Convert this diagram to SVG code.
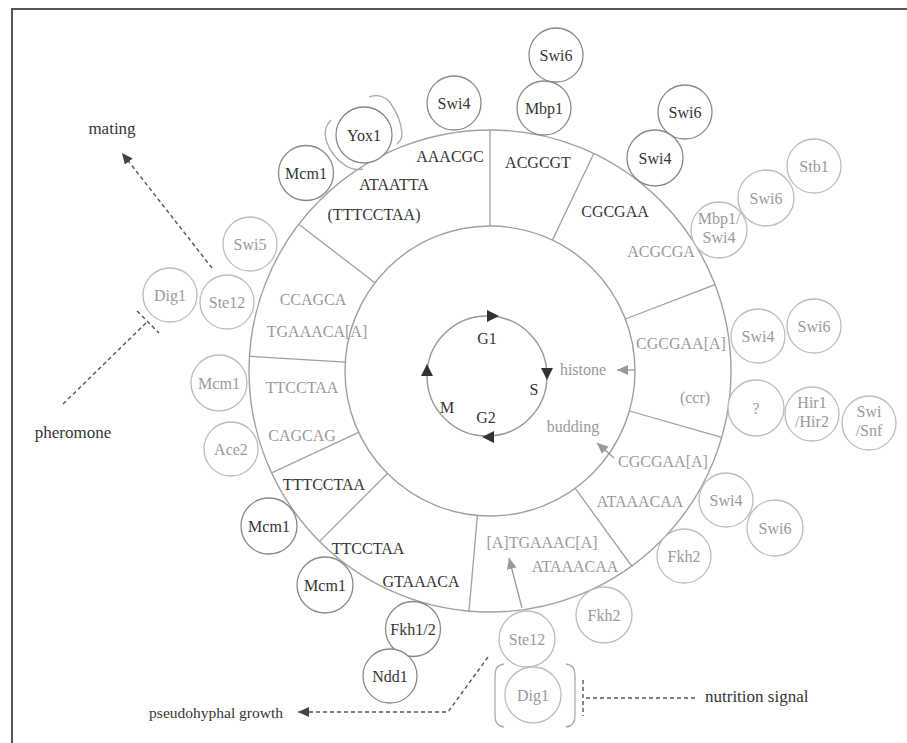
<svg xmlns="http://www.w3.org/2000/svg" width="907" height="743" viewBox="0 0 907 743" font-family="'Liberation Serif', 'DejaVu Serif', serif">
<style>
text{font-family:'Liberation Serif','DejaVu Serif',serif;font-size:16px;text-anchor:middle}
.dk{fill:#353535}
.gy{fill:#9a9a9a}
.lb{font-size:17px}
.cd{fill:#fff;stroke:#8a8a8a;stroke-width:1.3}
.cg{fill:#fff;stroke:#bdbdbd;stroke-width:1.3}
.ring{fill:none;stroke:#a0a0a0;stroke-width:1.4}
.div{stroke:#a0a0a0;stroke-width:1.3}
.dash{fill:none;stroke:#555;stroke-width:1.4;stroke-dasharray:4 3}
.br{fill:none;stroke:#aaa;stroke-width:1.3}
.gl{stroke:#999;stroke-width:1.3}
</style>
<defs>
<marker id="ad" markerUnits="userSpaceOnUse" markerWidth="12" markerHeight="10" refX="11" refY="5" orient="auto"><path d="M0,0 L11,5 L0,10 z" fill="#444"/></marker>
<marker id="ag" markerUnits="userSpaceOnUse" markerWidth="12" markerHeight="10" refX="11" refY="5" orient="auto"><path d="M0,0 L11,5 L0,10 z" fill="#999"/></marker>
</defs>
<rect width="907" height="743" fill="#fff"/>
<path d="M11 9 H907 M12 8 V743" stroke="#555" stroke-width="2" fill="none"/>

<g id="rings">
<circle class="ring" cx="490" cy="371" r="241"/>
<circle class="ring" cx="490" cy="371" r="145"/>
<line class="div" x1="490" y1="226" x2="490" y2="130"/>
<line class="div" x1="552.4" y1="240.1" x2="593.8" y2="153.5"/>
<line class="div" x1="625.4" y1="319" x2="715" y2="284.6"/>
<line class="div" x1="629.4" y1="411" x2="721.7" y2="437.4"/>
<line class="div" x1="575.2" y1="488.3" x2="631.7" y2="566"/>
<line class="div" x1="477.4" y1="515.4" x2="469" y2="611.1"/>
<line class="div" x1="387.5" y1="473.5" x2="319.6" y2="541.4"/>
<line class="div" x1="358.6" y1="432.3" x2="271.6" y2="472.9"/>
<line class="div" x1="345.3" y1="362.2" x2="249.5" y2="356.3"/>
<line class="div" x1="374.9" y1="282.7" x2="298.8" y2="224.3"/>
</g>

<g id="sites">
<text class="dk" x="450" y="162">AAACGC</text>
<text class="dk" x="394" y="190">ATAATTA</text>
<text class="dk" x="374" y="220">(TTTCCTAA)</text>
<text class="dk" x="538" y="168">ACGCGT</text>
<text class="dk" x="615" y="217">CGCGAA</text>
<text class="gy" x="661" y="257">ACGCGA</text>
<text class="gy" x="681" y="349">CGCGAA[A]</text>
<text class="gy" x="695" y="403">(ccr)</text>
<text class="gy" x="663" y="467">CGCGAA[A]</text>
<text class="gy" x="640" y="507">ATAAACAA</text>
<text class="gy" x="542" y="548">[A]TGAAAC[A]</text>
<text class="gy" x="575" y="572">ATAAACAA</text>
<text class="dk" x="421" y="587">GTAAACA</text>
<text class="dk" x="368" y="554">TTCCTAA</text>
<text class="dk" x="324" y="490">TTTCCTAA</text>
<text class="gy" x="302" y="441">CAGCAG</text>
<text class="gy" x="302" y="393">TTCCTAA</text>
<text class="gy" x="317" y="337">TGAAACA[A]</text>
<text class="gy" x="313" y="305">CCAGCA</text>
</g>

<g id="cellcycle">
<circle cx="487" cy="376" r="60" fill="none" stroke="#999" stroke-width="1.4"/>
<polygon points="487,310 499,316 487,322" fill="#333"/>
<polygon points="541,368 553,368 547,380" fill="#333"/>
<polygon points="494,431 494,443 482,437" fill="#333"/>
<polygon points="421,376 433,376 427,364" fill="#333"/>
<text class="dk" x="487" y="344">G1</text>
<text class="dk" x="534" y="395">S</text>
<text class="dk" x="486" y="423">G2</text>
<text class="dk" x="447" y="413">M</text>
<text class="gy" x="583" y="375">histone</text>
<text class="gy" x="573" y="432">budding</text>
</g>

<g id="n_mcm1_a"><circle class="cd" cx="306" cy="173" r="27.5"/><text class="dk" x="306" y="178.5">Mcm1</text></g>
<g id="n_yox1"><circle class="cd" cx="364" cy="135" r="28"/><text class="dk" x="364" y="140.5">Yox1</text>
<path class="br" d="M331 120 Q323 128 326 140 Q331 156 346 166 Q354 171 363 169"/>
<path class="br" d="M369 97 Q380 93 389 101 Q401 117 402 134 Q402 140 397 144"/></g>
<g id="n_swi4_a"><circle class="cd" cx="454" cy="103" r="27"/><text class="dk" x="454" y="108.5">Swi4</text></g>
<g id="n_swi6_a"><circle class="cd" cx="556" cy="55" r="27"/><text class="dk" x="556" y="60.5">Swi6</text></g>
<g id="n_mbp1"><circle class="cd" cx="544" cy="108" r="27"/><text class="dk" x="544" y="113.5">Mbp1</text></g>
<g id="n_swi6_b"><circle class="cd" cx="685" cy="112" r="27"/><text class="dk" x="685" y="117.5">Swi6</text></g>
<g id="n_swi4_b"><circle class="cd" cx="655" cy="158" r="28"/><text class="dk" x="655" y="163.5">Swi4</text></g>
<g id="n_mbp1swi4"><circle class="cg" cx="719" cy="230" r="28"/><text class="gy" x="719" y="224">Mbp1/</text><text class="gy" x="719" y="243">Swi4</text></g>
<g id="n_swi6_c"><circle class="cg" cx="766" cy="198" r="28"/><text class="gy" x="766" y="203.5">Swi6</text></g>
<g id="n_stb1"><circle class="cg" cx="814" cy="166" r="27"/><text class="gy" x="814" y="171.5">Stb1</text></g>
<g id="n_swi4_c"><circle class="cg" cx="758" cy="336" r="27"/><text class="gy" x="758" y="341.5">Swi4</text></g>
<g id="n_swi6_d"><circle class="cg" cx="814" cy="326" r="27"/><text class="gy" x="814" y="331.5">Swi6</text></g>
<g id="n_q"><circle class="cg" cx="756" cy="408" r="28"/><text class="gy" x="756" y="413.5">?</text></g>
<g id="n_hir"><circle class="cg" cx="812" cy="414" r="27"/><text class="gy" x="812" y="408">Hir1</text><text class="gy" x="812" y="427">/Hir2</text></g>
<g id="n_swisnf"><circle class="cg" cx="869" cy="423" r="27"/><text class="gy" x="869" y="417">Swi</text><text class="gy" x="869" y="436">/Snf</text></g>
<g id="n_swi4_e"><circle class="cg" cx="726" cy="500" r="27"/><text class="gy" x="726" y="505.5">Swi4</text></g>
<g id="n_swi6_e"><circle class="cg" cx="775" cy="528" r="28"/><text class="gy" x="775" y="533.5">Swi6</text></g>
<g id="n_fkh2_a"><circle class="cg" cx="684" cy="556" r="27"/><text class="gy" x="684" y="561.5">Fkh2</text></g>
<g id="n_fkh2_b"><circle class="cg" cx="604" cy="615" r="28"/><text class="gy" x="604" y="620.5">Fkh2</text></g>
<g id="n_ste12_b"><circle class="cg" cx="527" cy="639" r="28"/><text class="gy" x="527" y="644.5">Ste12</text></g>
<g id="n_dig1_b"><circle class="cg" cx="533" cy="695" r="28"/><text class="gy" x="533" y="700.5">Dig1</text>
<path class="br" d="M504 664 Q495 665 495 675 L495 716 Q495 726 504 727"/>
<path class="br" d="M566 664 Q575 665 575 675 L575 716 Q575 726 566 727"/></g>
<g id="n_fkh12"><circle class="cd" cx="413" cy="629" r="27.5"/><text class="dk" x="413" y="634.5">Fkh1/2</text></g>
<g id="n_ndd1"><circle class="cd" cx="390" cy="676" r="27"/><text class="dk" x="390" y="681.5">Ndd1</text></g>
<g id="n_mcm1_e"><circle class="cd" cx="325" cy="585" r="28"/><text class="dk" x="325" y="590.5">Mcm1</text></g>
<g id="n_mcm1_d"><circle class="cd" cx="269" cy="526" r="28"/><text class="dk" x="269" y="531.5">Mcm1</text></g>
<g id="n_ace2"><circle class="cg" cx="231" cy="449" r="27"/><text class="gy" x="231" y="454.5">Ace2</text></g>
<g id="n_mcm1_b"><circle class="cg" cx="219" cy="383" r="28"/><text class="gy" x="219" y="388.5">Mcm1</text></g>
<g id="n_ste12_a"><circle class="cg" cx="227" cy="302" r="27"/><text class="gy" x="227" y="307.5">Ste12</text></g>
<g id="n_dig1_a"><circle class="cg" cx="170" cy="295" r="27"/><text class="gy" x="170" y="300.5">Dig1</text></g>
<g id="n_swi5"><circle class="cg" cx="250" cy="244" r="27"/><text class="gy" x="250" y="249.5">Swi5</text></g>

<g id="labels">
<text class="dk lb" x="112" y="134">mating</text>
<text class="dk lb" x="73" y="438">pheromone</text>
<text class="dk" x="283" y="718" style="text-anchor:end;font-size:15.5px">pseudohyphal growth</text>
<text class="dk lb" x="705" y="702" style="text-anchor:start">nutrition signal</text>
</g>

<g id="connectors">
<line class="dash" x1="212" y1="268" x2="122" y2="153" marker-end="url(#ad)"/>
<line class="dash" x1="63" y1="404" x2="147" y2="322"/>
<line class="dash" x1="137" y1="311" x2="159" y2="333"/>
<polyline class="dash" points="488,657 448,712 298,712" marker-end="url(#ad)"/>
<line class="dash" x1="695" y1="698" x2="585" y2="698"/>
<line class="dash" x1="583" y1="680" x2="583" y2="716"/>
<line class="gl" x1="635" y1="370" x2="617" y2="370" marker-end="url(#ag)"/>
<line class="gl" x1="614" y1="458" x2="597" y2="443" marker-end="url(#ag)"/>
<line class="gl" x1="522" y1="608" x2="509" y2="558" marker-end="url(#ag)"/>
</g>
</svg>
